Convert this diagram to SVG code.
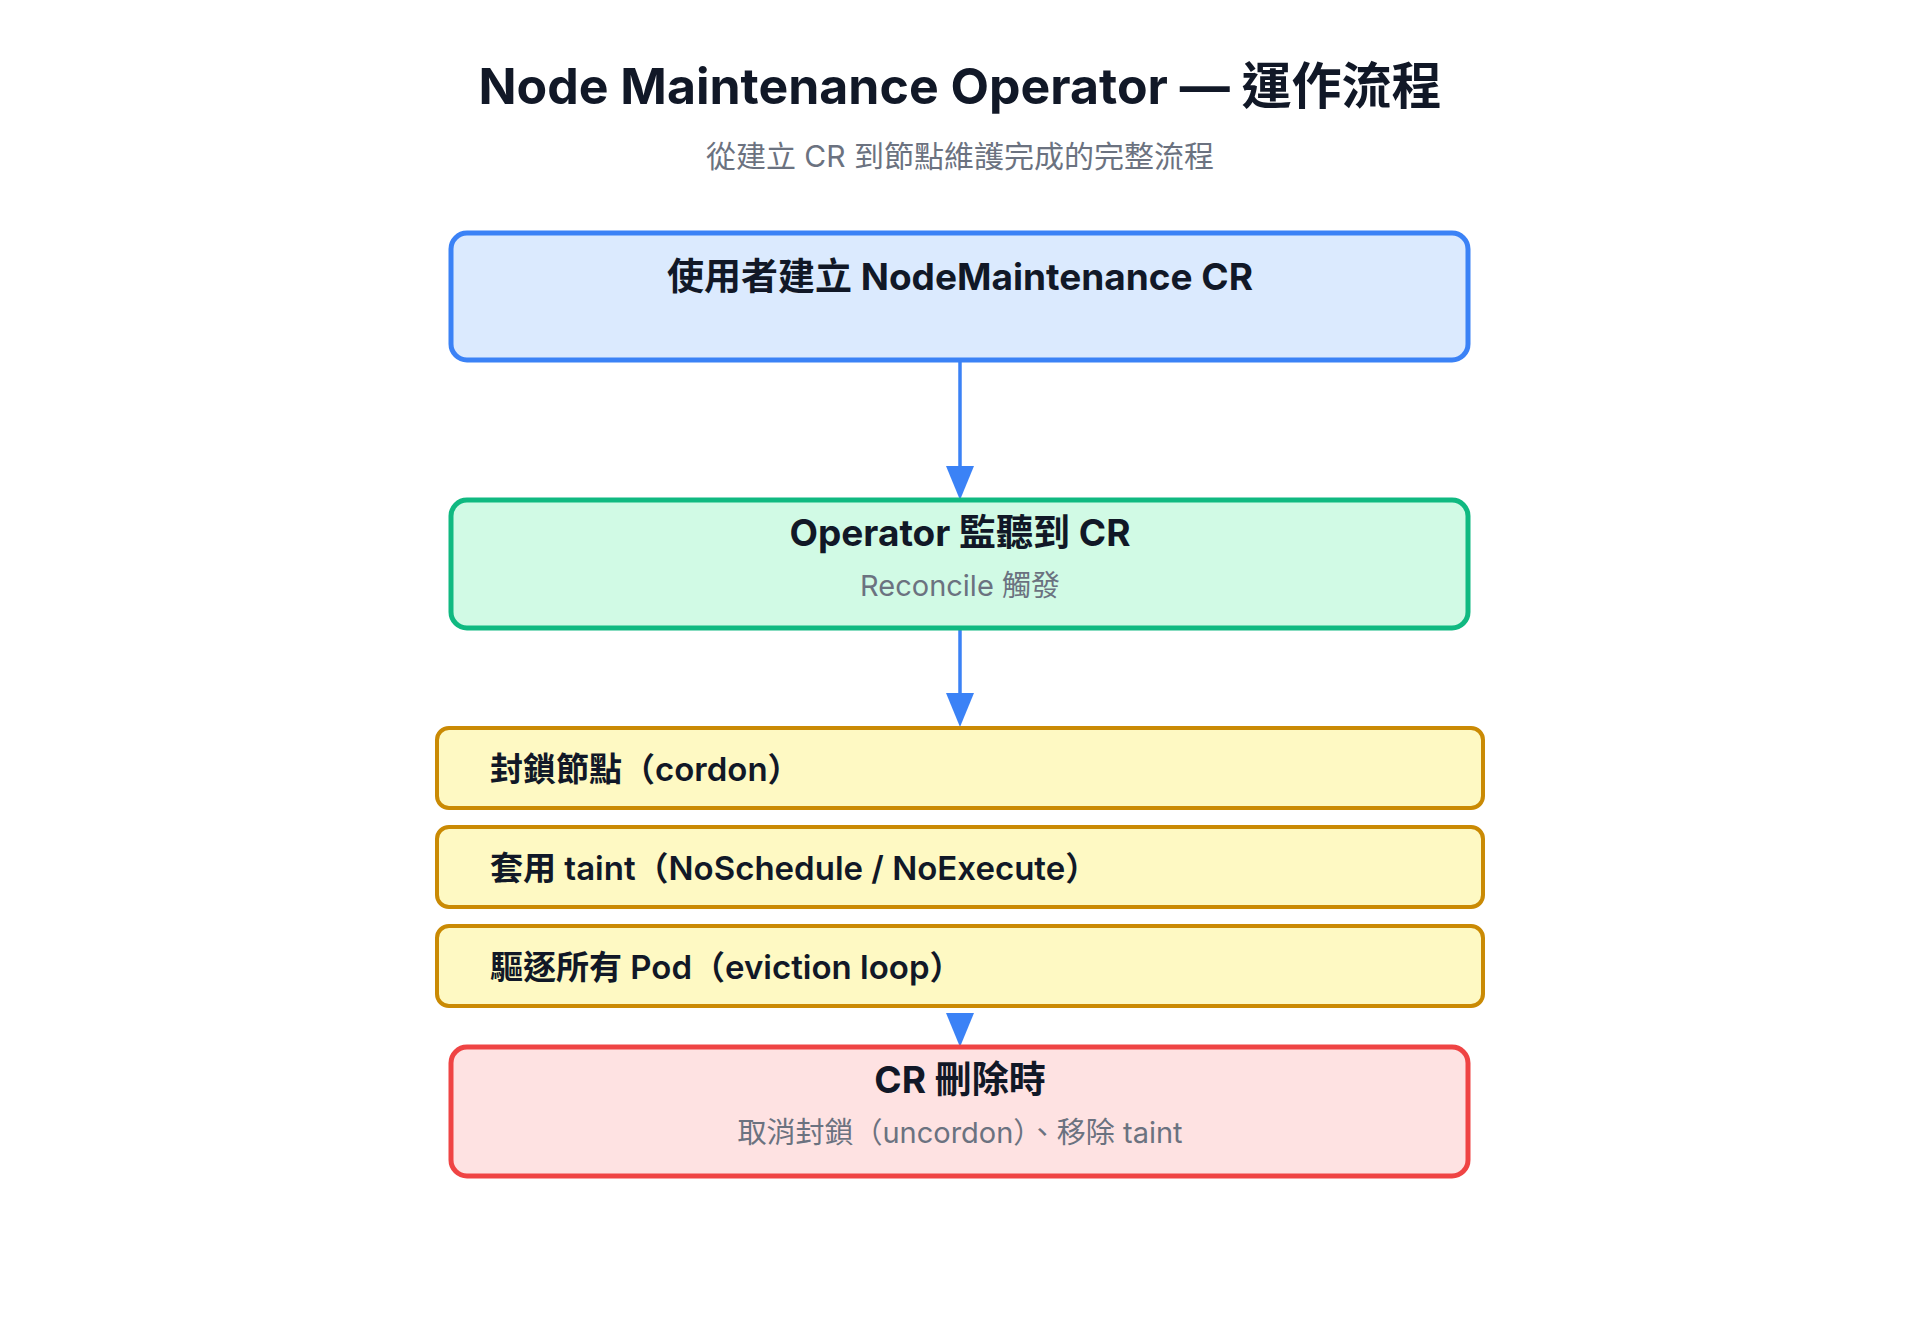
<svg xmlns="http://www.w3.org/2000/svg" width="1920" height="1339" viewBox="0 0 1920 1339">
<style>
text{font-family:"Inter","Noto Sans CJK TC",sans-serif;}
.t{font-size:50px;font-weight:700;fill:#111827;text-anchor:middle}
.st{font-size:30px;fill:#6b7280;text-anchor:middle}
.h{font-size:37px;font-weight:700;fill:#111827;text-anchor:middle}
.s{font-size:29px;fill:#6b7280;text-anchor:middle}
.y{font-size:33px;font-weight:600;fill:#111827}
.box{stroke-width:5}
.yb{fill:#fef9c3;stroke:#ca8a04;stroke-width:4}
.c{stroke:#3b82f6;stroke-width:3.5;fill:none}
</style>
<defs><marker id="a" markerWidth="12" markerHeight="18" refX="12" refY="9" orient="auto" markerUnits="userSpaceOnUse"><path d="M0,0 L12,9 L0,18 Z" fill="#3b82f6" transform="scale(3,1.35) translate(-8,-2.3)"/></marker></defs>
<rect width="1920" height="1339" fill="#fff"/>
<text class="t" x="960" y="104">Node Maintenance Operator — 運作流程</text>
<text class="st" x="960" y="167">從建立 CR 到節點維護完成的完整流程</text>
<g id="connectors">
<line class="c" x1="960" y1="360" x2="960" y2="472"/><path d="M946,466 L974,466 L960,500 Z" fill="#3b82f6"/>
<line class="c" x1="960" y1="628" x2="960" y2="698"/><path d="M946,693 L974,693 L960,727 Z" fill="#3b82f6"/>
<path d="M946,1013 L974,1013 L960,1047 Z" fill="#3b82f6"/>
</g>
<g id="n1"><rect class="box" x="451" y="233" width="1017" height="127" rx="16" fill="#dbeafe" stroke="#3b82f6"/><text class="h" x="960" y="290">使用者建立 NodeMaintenance CR</text></g>
<g id="n2"><rect class="box" x="451" y="500" width="1017" height="128" rx="16" fill="#d1fae5" stroke="#10b981"/><text class="h" x="960" y="546">Operator 監聽到 CR</text><text class="s" x="960" y="596">Reconcile 觸發</text></g>
<g id="s1"><rect class="yb" x="437" y="728" width="1046" height="80" rx="12"/><text class="y" x="490" y="781">封鎖節點（cordon）</text></g>
<g id="s2"><rect class="yb" x="437" y="827" width="1046" height="80" rx="12"/><text class="y" x="490" y="880">套用 taint（NoSchedule / NoExecute）</text></g>
<g id="s3"><rect class="yb" x="437" y="926" width="1046" height="80" rx="12"/><text class="y" x="490" y="979">驅逐所有 Pod（eviction loop）</text></g>
<g id="n3"><rect class="box" x="451" y="1047" width="1017" height="129" rx="16" fill="#fee2e2" stroke="#ef4444"/><text class="h" x="960" y="1093">CR 刪除時</text><text class="s" x="960" y="1143">取消封鎖（uncordon）、移除 taint</text></g>
</svg>
